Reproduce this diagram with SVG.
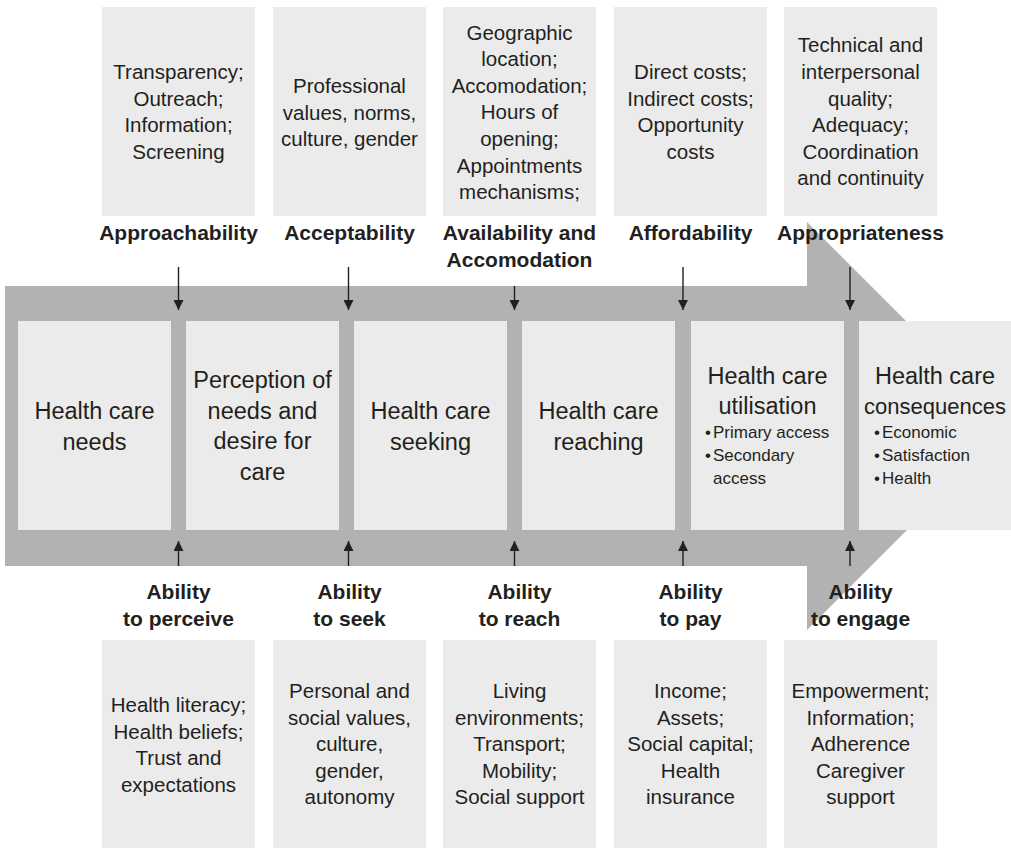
<svg xmlns="http://www.w3.org/2000/svg" width="1011" height="848" viewBox="0 0 1011 848">
<defs>
<style>
.box{fill:#ebebeb}
.band{fill:#b2b2b2}
.t{font-family:"Liberation Sans",Arial,sans-serif;font-size:20.5px;fill:#231f20;text-anchor:middle}
.m{font-family:"Liberation Sans",Arial,sans-serif;font-size:23.5px;fill:#231f20;text-anchor:middle}
.s{font-family:"Liberation Sans",Arial,sans-serif;font-size:17px;fill:#231f20}
.b{font-family:"Liberation Sans",Arial,sans-serif;font-size:21px;font-weight:bold;fill:#231f20;text-anchor:middle}
.c{stroke:#231f20;stroke-width:1.4;fill:none}
</style>
<marker id="ah" markerUnits="userSpaceOnUse" markerWidth="10" markerHeight="10" refX="10" refY="5" orient="auto">
<path d="M0,0 L10,5 L0,10 Z" fill="#231f20"/>
</marker>
</defs>
<rect width="1011" height="848" fill="#ffffff"/>
<path id="big-arrow" class="band" d="M5,286 H807 V222 L1011,426 L807,630 V566 H5 Z"/>

<g id="top-approachability">
<rect class="box" x="102" y="7" width="153" height="209"/>
<text class="t" x="178.5"><tspan x="178.5" y="79">Transparency;</tspan><tspan x="178.5" y="105.6">Outreach;</tspan><tspan x="178.5" y="132.2">Information;</tspan><tspan x="178.5" y="158.8">Screening</tspan></text>
<text class="b" x="178.5" y="240">Approachability</text>
</g>
<g id="top-acceptability">
<rect class="box" x="273" y="7" width="153" height="209"/>
<text class="t"><tspan x="349.5" y="93">Professional</tspan><tspan x="349.5" y="119.6">values, norms,</tspan><tspan x="349.5" y="146.2">culture, gender</tspan></text>
<text class="b" x="349.5" y="240">Acceptability</text>
</g>
<g id="top-availability">
<rect class="box" x="443" y="7" width="153" height="209"/>
<text class="t"><tspan x="519.5" y="39.5">Geographic</tspan><tspan x="519.5" y="66.1">location;</tspan><tspan x="519.5" y="92.7">Accomodation;</tspan><tspan x="519.5" y="119.3">Hours of</tspan><tspan x="519.5" y="145.9">opening;</tspan><tspan x="519.5" y="172.5">Appointments</tspan><tspan x="519.5" y="199.1">mechanisms;</tspan></text>
<text class="b"><tspan x="519.5" y="240">Availability and</tspan><tspan x="519.5" y="266.5">Accomodation</tspan></text>
</g>
<g id="top-affordability">
<rect class="box" x="614" y="7" width="153" height="209"/>
<text class="t"><tspan x="690.5" y="79">Direct costs;</tspan><tspan x="690.5" y="105.6">Indirect costs;</tspan><tspan x="690.5" y="132.2">Opportunity</tspan><tspan x="690.5" y="158.8">costs</tspan></text>
<text class="b" x="690.5" y="240">Affordability</text>
</g>
<g id="top-appropriateness">
<rect class="box" x="784" y="7" width="153" height="209"/>
<text class="t"><tspan x="860.5" y="52.4">Technical and</tspan><tspan x="860.5" y="79">interpersonal</tspan><tspan x="860.5" y="105.6">quality;</tspan><tspan x="860.5" y="132.2">Adequacy;</tspan><tspan x="860.5" y="158.8">Coordination</tspan><tspan x="860.5" y="185.4">and continuity</tspan></text>
<text class="b" x="860.5" y="240">Appropriateness</text>
</g>

<g id="step-needs">
<rect class="box" x="18" y="321" width="153" height="209"/>
<text class="m"><tspan x="94.5" y="419">Health care</tspan><tspan x="94.5" y="450">needs</tspan></text>
</g>
<g id="step-perception">
<rect class="box" x="186" y="321" width="153" height="209"/>
<text class="m"><tspan x="262.5" y="388">Perception of</tspan><tspan x="262.5" y="418.5">needs and</tspan><tspan x="262.5" y="449">desire for</tspan><tspan x="262.5" y="479.5">care</tspan></text>
</g>
<g id="step-seeking">
<rect class="box" x="354" y="321" width="153" height="209"/>
<text class="m"><tspan x="430.5" y="419">Health care</tspan><tspan x="430.5" y="450">seeking</tspan></text>
</g>
<g id="step-reaching">
<rect class="box" x="522" y="321" width="153" height="209"/>
<text class="m"><tspan x="598.5" y="419">Health care</tspan><tspan x="598.5" y="450">reaching</tspan></text>
</g>
<g id="step-utilisation">
<rect class="box" x="691" y="321" width="153" height="209"/>
<text class="m"><tspan x="767.5" y="384">Health care</tspan><tspan x="767.5" y="414">utilisation</tspan></text>
<text class="s"><tspan x="705" y="438">•</tspan><tspan x="713" y="438">Primary access</tspan><tspan x="705" y="461">•</tspan><tspan x="713" y="461">Secondary</tspan><tspan x="713" y="483.5">access</tspan></text>
</g>
<g id="step-consequences">
<rect class="box" x="859" y="321" width="152" height="209"/>
<text class="m"><tspan x="935" y="384">Health care</tspan><tspan x="935" y="414" style="font-size:22px">consequences</tspan></text>
<text class="s"><tspan x="874" y="438">•</tspan><tspan x="882" y="438">Economic</tspan><tspan x="874" y="461">•</tspan><tspan x="882" y="461">Satisfaction</tspan><tspan x="874" y="484">•</tspan><tspan x="882" y="484">Health</tspan></text>
</g>

<g id="bottom-perceive">
<text class="b"><tspan x="178.5" y="599">Ability</tspan><tspan x="178.5" y="626">to perceive</tspan></text>
<rect class="box" x="102" y="640" width="153" height="209"/>
<text class="t"><tspan x="178.5" y="712">Health literacy;</tspan><tspan x="178.5" y="738.5">Health beliefs;</tspan><tspan x="178.5" y="765">Trust and</tspan><tspan x="178.5" y="791.5">expectations</tspan></text>
</g>
<g id="bottom-seek">
<text class="b"><tspan x="349.5" y="599">Ability</tspan><tspan x="349.5" y="626">to seek</tspan></text>
<rect class="box" x="273" y="640" width="153" height="209"/>
<text class="t"><tspan x="349.5" y="698">Personal and</tspan><tspan x="349.5" y="724.5">social values,</tspan><tspan x="349.5" y="751">culture,</tspan><tspan x="349.5" y="777.5">gender,</tspan><tspan x="349.5" y="804">autonomy</tspan></text>
</g>
<g id="bottom-reach">
<text class="b"><tspan x="519.5" y="599">Ability</tspan><tspan x="519.5" y="626">to reach</tspan></text>
<rect class="box" x="443" y="640" width="153" height="209"/>
<text class="t"><tspan x="519.5" y="698">Living</tspan><tspan x="519.5" y="724.5">environments;</tspan><tspan x="519.5" y="751">Transport;</tspan><tspan x="519.5" y="777.5">Mobility;</tspan><tspan x="519.5" y="804">Social support</tspan></text>
</g>
<g id="bottom-pay">
<text class="b"><tspan x="690.5" y="599">Ability</tspan><tspan x="690.5" y="626">to pay</tspan></text>
<rect class="box" x="614" y="640" width="153" height="209"/>
<text class="t"><tspan x="690.5" y="698">Income;</tspan><tspan x="690.5" y="724.5">Assets;</tspan><tspan x="690.5" y="751">Social capital;</tspan><tspan x="690.5" y="777.5">Health</tspan><tspan x="690.5" y="804">insurance</tspan></text>
</g>
<g id="bottom-engage">
<text class="b"><tspan x="860.5" y="599">Ability</tspan><tspan x="860.5" y="626">to engage</tspan></text>
<rect class="box" x="784" y="640" width="153" height="209"/>
<text class="t"><tspan x="860.5" y="698">Empowerment;</tspan><tspan x="860.5" y="724.5">Information;</tspan><tspan x="860.5" y="751">Adherence</tspan><tspan x="860.5" y="777.5">Caregiver</tspan><tspan x="860.5" y="804">support</tspan></text>
</g>

<g id="connectors">
<line class="c" x1="178.5" y1="267" x2="178.5" y2="310" marker-end="url(#ah)"/>
<line class="c" x1="348.5" y1="267" x2="348.5" y2="310" marker-end="url(#ah)"/>
<line class="c" x1="514.5" y1="286" x2="514.5" y2="310" marker-end="url(#ah)"/>
<line class="c" x1="683" y1="267" x2="683" y2="310" marker-end="url(#ah)"/>
<line class="c" x1="850" y1="267" x2="850" y2="310" marker-end="url(#ah)"/>
<line class="c" x1="178.5" y1="566" x2="178.5" y2="541" marker-end="url(#ah)"/>
<line class="c" x1="348.5" y1="566" x2="348.5" y2="541" marker-end="url(#ah)"/>
<line class="c" x1="514.5" y1="566" x2="514.5" y2="541" marker-end="url(#ah)"/>
<line class="c" x1="683" y1="566" x2="683" y2="541" marker-end="url(#ah)"/>
<line class="c" x1="850" y1="566" x2="850" y2="541" marker-end="url(#ah)"/>
</g>
</svg>
